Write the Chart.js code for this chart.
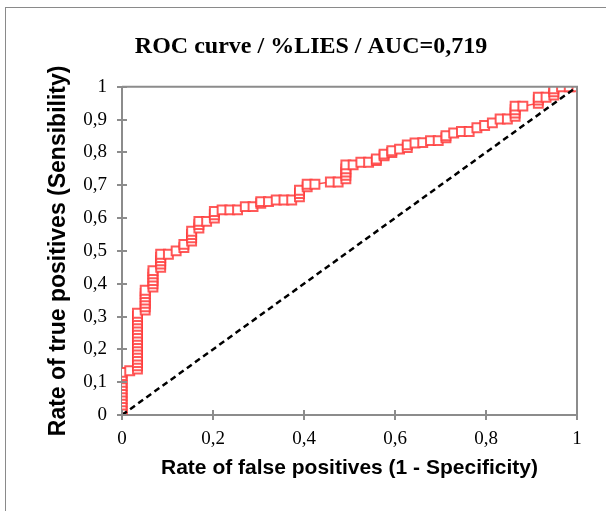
<!DOCTYPE html>
<html>
<head>
<meta charset="utf-8">
<script src="https://cdn.jsdelivr.net/npm/chart.js@4"></script>
<style>
  html, body { margin: 0; padding: 0; background: #fff; }
  #wrap { width: 606px; height: 511px; }
</style>
</head>
<body>
<div id="wrap"><canvas id="roc" width="606" height="511"></canvas></div>
<script>
// ROC points (1 - specificity, sensitivity)
const fpr = [
  0, 0, 0, 0, 0, 0, 0, 0, 0, 0, 0, 0, 0, 0,
  0.017,
  0.034, 0.034, 0.034, 0.034, 0.034, 0.034, 0.034, 0.034, 0.034, 0.034, 0.034, 0.034, 0.034, 0.034, 0.034, 0.034, 0.034, 0.034,
  0.051, 0.051, 0.051, 0.051, 0.051, 0.051, 0.051,
  0.068, 0.068, 0.068, 0.068, 0.068, 0.068,
  0.085, 0.085, 0.085, 0.085, 0.085,
  0.102, 0.119, 0.136, 0.136,
  0.153, 0.153, 0.153, 0.153,
  0.169, 0.169, 0.169, 0.186,
  0.203, 0.203, 0.203,
  0.22, 0.237, 0.254, 0.271, 0.288, 0.305, 0.305, 0.322, 0.339, 0.356, 0.373,
  0.39, 0.39, 0.39, 0.407, 0.407, 0.424, 0.458, 0.475,
  0.492, 0.492, 0.492, 0.492, 0.492,
  0.508, 0.525, 0.542, 0.559, 0.559, 0.576, 0.576, 0.593, 0.593, 0.61, 0.627, 0.627,
  0.644, 0.661, 0.678, 0.695, 0.712, 0.712, 0.729, 0.746, 0.763, 0.78, 0.797, 0.814, 0.831, 0.847,
  0.864, 0.864, 0.864, 0.864, 0.881,
  0.915, 0.915, 0.915, 0.932, 0.949, 0.949, 0.949, 0.966, 0.983, 1
]
const tpr = [
  0, 0.01, 0.02, 0.03, 0.04, 0.05, 0.06, 0.07, 0.08, 0.09, 0.10, 0.11, 0.12, 0.13,
  0.135,
  0.14, 0.15, 0.16, 0.17, 0.18, 0.19, 0.20, 0.21, 0.22, 0.23, 0.24, 0.25, 0.26, 0.27, 0.28, 0.29, 0.30, 0.31,
  0.32, 0.33, 0.34, 0.35, 0.36, 0.37, 0.38,
  0.39, 0.40, 0.41, 0.42, 0.43, 0.44,
  0.45, 0.46, 0.47, 0.48, 0.49,
  0.49, 0.50, 0.51, 0.52,
  0.53, 0.54, 0.55, 0.56,
  0.57, 0.58, 0.59, 0.59,
  0.60, 0.61, 0.62,
  0.625, 0.625, 0.625, 0.635, 0.635, 0.645, 0.65, 0.65, 0.655, 0.655, 0.655,
  0.665, 0.675, 0.685, 0.695, 0.703, 0.703, 0.71, 0.71,
  0.72, 0.73, 0.74, 0.75, 0.762,
  0.762, 0.77, 0.77, 0.775, 0.78, 0.79, 0.795, 0.80, 0.805, 0.81, 0.815, 0.823,
  0.829, 0.83, 0.836, 0.836, 0.845, 0.851, 0.859, 0.864, 0.864, 0.875, 0.882, 0.89, 0.902, 0.902,
  0.91, 0.92, 0.93, 0.941, 0.941,
  0.95, 0.96, 0.968, 0.968, 0.975, 0.985, 0.994, 1, 1, 1
]
const chanceX = [0, 1]
const chanceY = [0, 1]

const titleText = 'ROC curve / %LIES / AUC=0,719'
const xTitle = 'Rate of false positives (1 - Specificity)'
const yTitle = 'Rate of true positives (Sensibility)'

const axisGray = '#8c8c8c'
const fmt = v => String(Math.round(v * 10) / 10).replace('.', ',')

// frame round the whole chart, box round the plot, and ticks crossing the axes
const decor = {
  id: 'decor',
  beforeDraw(chart) {
    const ctx = chart.ctx
    ctx.save()
    ctx.strokeStyle = '#8a8a8a'
    ctx.lineWidth = 1
    ctx.strokeRect(5.5, 7.5, 640, 540)
    ctx.restore()
  },
  afterDatasetsDraw(chart) {
    const { ctx, chartArea: a, scales } = chart
    ctx.save()
    ctx.strokeStyle = axisGray
    ctx.lineWidth = 2
    ctx.beginPath()
    ctx.moveTo(a.left, a.top); ctx.lineTo(a.right, a.top); ctx.lineTo(a.right, a.bottom)
    ctx.stroke()
    ctx.beginPath()
    scales.y.ticks.forEach(t => {
      const py = Math.round(scales.y.getPixelForValue(t.value))
      ctx.moveTo(a.left, py); ctx.lineTo(a.left + 5, py)
    })
    scales.x.ticks.forEach(t => {
      const px = Math.round(scales.x.getPixelForValue(t.value))
      ctx.moveTo(px, a.bottom); ctx.lineTo(px, a.bottom - 5)
    })
    ctx.stroke()
    ctx.restore()
  }
}

const points = fpr.map((x, i) => ({ x: x, y: tpr[i] }))
const chance = chanceX.map((x, i) => ({ x: x, y: chanceY[i] }))

new Chart(document.getElementById('roc'), {
  type: 'scatter',
  data: {
    datasets: [
      {
        label: 'chance',
        data: chance,
        showLine: true,
        borderColor: '#000',
        borderWidth: 2.5,
        borderDash: [6, 4],
        pointRadius: 0
      },
      {
        label: '%LIES',
        data: points,
        showLine: true,
        borderColor: 'rgba(255, 60, 60, 0.9)',
        borderWidth: 1.5,
        pointStyle: 'rect',
        pointRadius: 6.3,
        pointBorderWidth: 2,
        pointBackgroundColor: '#fff',
        pointBorderColor: 'rgba(255, 60, 60, 0.85)'
      }
    ]
  },
  options: {
    responsive: false,
    animation: false,
    layout: { padding: { left: 45, right: 29, top: 0, bottom: 0 } },
    plugins: {
      legend: { display: false },
      tooltip: { enabled: false },
      title: {
        display: true,
        text: titleText,
        color: '#000',
        font: { family: 'Liberation Serif', size: 24, weight: 'bold', lineHeight: 1.2 },
        padding: { top: 32, bottom: 26 }
      }
    },
    scales: {
      x: {
        type: 'linear',
        min: 0,
        max: 1,
        ticks: {
          stepSize: 0.2,
          padding: 8,
          color: '#000',
          font: { family: 'Liberation Serif', size: 19 },
          callback: fmt
        },
        grid: { drawOnChartArea: false, drawTicks: true, tickLength: 5, color: axisGray, lineWidth: 2 },
        border: { display: true, color: axisGray, width: 2 },
        title: {
          display: true,
          text: xTitle,
          color: '#000',
          font: { family: 'Liberation Sans', size: 21, weight: 'bold', lineHeight: 1.2 },
          padding: { top: 0, bottom: 30 }
        },
        afterFit(scale) { scale.height = 96 }
      },
      y: {
        type: 'linear',
        min: 0,
        max: 1,
        ticks: {
          stepSize: 0.1,
          padding: 10,
          color: '#000',
          font: { family: 'Liberation Serif', size: 19 },
          callback: fmt
        },
        grid: { drawOnChartArea: false, drawTicks: true, tickLength: 5, color: axisGray, lineWidth: 2 },
        border: { display: true, color: axisGray, width: 2 },
        title: {
          display: true,
          text: yTitle,
          color: '#000',
          font: { family: 'Liberation Sans', size: 23, weight: 'bold', lineHeight: 1.2 },
          padding: { top: 0, bottom: 0 }
        },
        afterFit(scale) { scale.width = 77 }
      }
    }
  },
  plugins: [decor]
})
</script>
</body>
</html>
